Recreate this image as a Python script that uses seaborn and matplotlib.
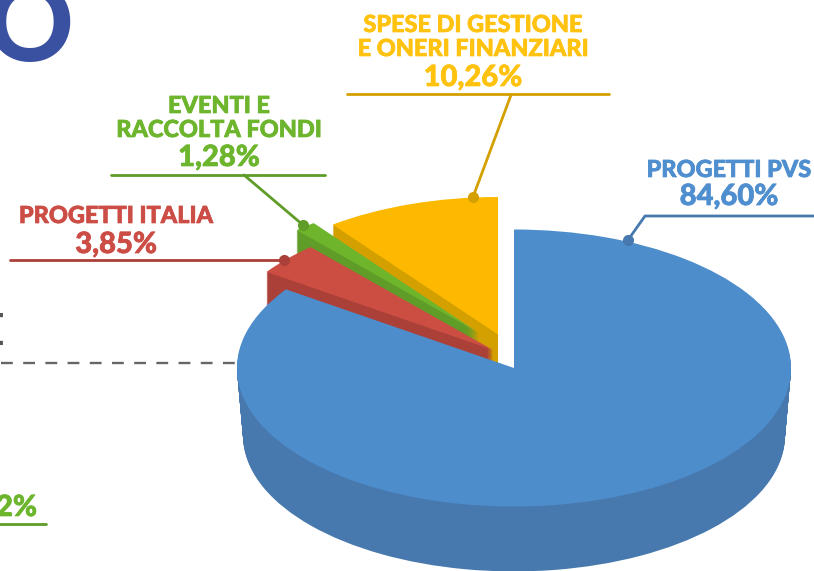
import matplotlib
matplotlib.use('Agg')
import matplotlib.pyplot as plt
import matplotlib.patheffects as pe
import seaborn as sns

# Shares in drawing order of the pie
categories = ['PROGETTI PVS', 'PROGETTI ITALIA', 'EVENTI E\nRACCOLTA FONDI', 'SPESE DI GESTIONE\nE ONERI FINANZIARI']
shares = [84.60, 3.85, 1.28, 10.26]
share_labels = ['84,60%', '3,85%', '1,28%', '10,26%']

top_colors = sns.color_palette(['#4E8DCC', '#CC4E43', '#6FB52C', '#FDB900'])
side_colors = sns.color_palette(['#4779AE', '#AA4038', '#5F9C28', '#D4A000'])
text_colors = ['#4F8FCF', '#CC4D45', '#6CB52D', '#FFC20E']

W, H = 814, 571
SQUASH = 0.5  # the pie is tilted, ellipse height / width


def Y(py):
    # pixel row in the picture to data y
    return (H - py) / SQUASH


def slice_at(ax, i, cx, cy, r, color):
    colors = [(0, 0, 0, 0)] * len(shares)
    colors[i] = color
    ax.pie(shares, startangle=90, counterclock=False, colors=colors,
           center=(cx, Y(cy)), radius=r, wedgeprops={'linewidth': 0})


def heavy(color):
    # the installed font is a bit lighter than the original heading weight
    return [pe.withStroke(linewidth=0.5, foreground=color)]


sns.set_theme(style='white')
plt.rcParams['font.family'] = ['Lato', 'DejaVu Sans']

fig = plt.figure(figsize=(W / 100, H / 100), dpi=100)
ax = fig.add_axes([0, 0, 1, 1])

# dashed rule running into the pie
ax.plot([1, 238], [Y(363), Y(363)], color='#666666', lw=1.7, dashes=(5, 4.4))

# small slices first, the big one sits in front of them
for i, cx, cy, r in [(3, 498, 334.5, 275), (2, 479, 333, 275), (1, 493, 350, 275)]:
    for d in range(64, 0, -1):
        slice_at(ax, i, cx, cy + d, r, side_colors[i])
    slice_at(ax, i, cx, cy, r, top_colors[i])

# big slice, the side narrows a little towards the bottom
for d in range(68, 0, -1):
    slice_at(ax, 0, 514, 368 + d, 277 - d * 0.09, side_colors[0])
slice_at(ax, 0, 514, 368, 277, top_colors[0])

ax.set_aspect('auto')
ax.set_xlim(0, W)
ax.set_ylim(0, H / SQUASH)
ax.set_axis_off()

# leader lines: (x list, pixel row list), dot on the first point
leaders = [
    ([628, 645, 814], [240, 216, 216]),
    ([284, 10], [260, 260]),
    ([303, 244], [225, 175]),
    ([473, 511], [197, 95]),
]
rules = [None, None, (111, 325, 175), (347, 609, 94)]
for i, (xs, rows) in enumerate(leaders):
    sns.lineplot(x=xs, y=[Y(p) for p in rows], ax=ax, color=side_colors[i], lw=2,
                 sort=False, estimator=None, legend=False)
    ax.plot(xs[0], Y(rows[0]), 'o', ms=8, color=side_colors[i], mew=0)
    if rules[i]:
        ax.plot(rules[i][:2], [Y(rules[i][2])] * 2, color=side_colors[i], lw=2)

# labels: name lines then the percentage, x centre and baselines in pixels
label_pos = [
    (729, [177], 205),
    (116, [223], 253),
    (219, [113, 137], 166),
    (473, [32, 56], 86),
]
for i, (cx, name_rows, pct_row) in enumerate(label_pos):
    for line, row in zip(categories[i].split('\n'), name_rows):
        ax.text(cx, Y(row), line, color=text_colors[i], fontsize=16.9, weight='black',
                ha='center', va='baseline', path_effects=heavy(text_colors[i]))
    ax.text(cx, Y(pct_row), share_labels[i], color=text_colors[i], fontsize=21,
            weight='black', ha='center', va='baseline', path_effects=heavy(text_colors[i]))

# fragments of other content cut by the crop
ax.text(29, Y(29), 'O', color='#3A50A0', fontsize=78, weight='black', ha='center', va='center')
ax.text(4, Y(345), 'E', color='#555555', fontsize=32, weight='bold', ha='right', va='baseline')
ax.text(37, Y(516), '2%', color=text_colors[2], fontsize=21, weight='black', ha='right', va='baseline',
        path_effects=heavy(text_colors[2]))
ax.plot([0, 46], [Y(523.5)] * 2, color=side_colors[2], lw=2)

fig.savefig('out.png', dpi=100)
